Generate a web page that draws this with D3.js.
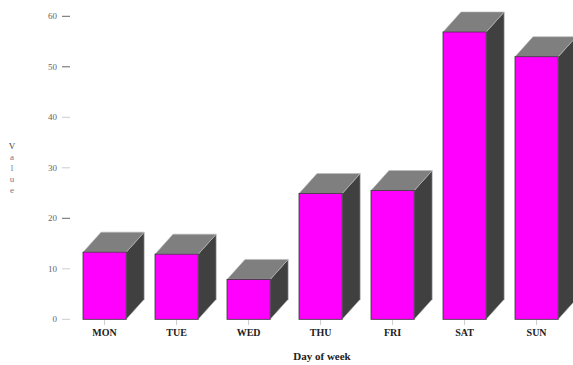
<!DOCTYPE html>
<html>
<head>
<meta charset="utf-8">
<script src="https://cdn.jsdelivr.net/npm/d3@7"></script>
<style>
  html, body { margin: 0; padding: 0; background: #fff; }
  svg { display: block; }
  text { font-family: "Liberation Serif", "DejaVu Serif", serif; }
</style>
</head>
<body>
<svg id="chart" width="573" height="365"></svg>
<script>
// Weekly values
const days = ["MON", "TUE", "WED", "THU", "FRI", "SAT", "SUN"];
const values = [13.3, 12.9, 7.9, 24.9, 25.5, 56.9, 52.0];
const yTicks = [0, 10, 20, 30, 40, 50, 60];
const yLabel = "Value";
const xLabel = "Day of week";

const svg = d3.select("#chart");

// Extrusion depth for the 3D look
const depthX = 18, depthY = 20;

const x = d3.scaleBand()
  .domain(days)
  .range([68.6, 572.6])
  .paddingInner(0.4)
  .paddingOuter(0.2);

const y = d3.scaleLinear()
  .domain([0, 60])
  .range([319.3, 16.3]);

// Y axis: labels with short tick dashes
const yAxis = svg.append("g");
yAxis.selectAll("text")
  .data(yTicks)
  .join("text")
  .attr("x", 57)
  .attr("y", d => y(d))
  .attr("dy", "0.35em")
  .attr("text-anchor", "end")
  .attr("font-size", 9)
  .attr("fill", "#666")
  .text(d => d);
yAxis.selectAll("line")
  .data(yTicks)
  .join("line")
  .attr("x1", 62).attr("x2", 70)
  .attr("y1", d => y(d)).attr("y2", d => y(d))
  .attr("stroke", d => d >= 50 || d === 20 ? "#666" : "#ccc")
  .attr("stroke-width", 1);

// Vertical stacked y-axis title
svg.append("g").selectAll("text")
  .data(yLabel.split(""))
  .join("text")
  .attr("x", 12)
  .attr("y", (d, i) => 149 + i * 11)
  .attr("text-anchor", "middle")
  .attr("font-size", 9)
  .attr("fill", (d, i) => i === 0 ? "#444" : "#778")
  .text(d => d);

// Bars drawn as extruded boxes
const bars = svg.append("g").selectAll("g")
  .data(days.map((d, i) => ({ day: d, value: values[i] })))
  .join("g");

const bw = x.bandwidth();

// side face
bars.append("path")
  .attr("d", d => {
    const x1 = x(d.day) + bw, yt = y(d.value), yb = y(0);
    return `M${x1},${yb} L${x1},${yt} L${x1 + depthX},${yt - depthY} L${x1 + depthX},${yb - depthY} Z`;
  })
  .attr("fill", "#404040")
  .attr("stroke", "#bbb")
  .attr("stroke-width", 0.6);

// top face
bars.append("path")
  .attr("d", d => {
    const x0 = x(d.day), x1 = x0 + bw, yt = y(d.value);
    return `M${x0},${yt} L${x0 + depthX},${yt - depthY} L${x1 + depthX},${yt - depthY} L${x1},${yt} Z`;
  })
  .attr("fill", "#7f7f7f")
  .attr("stroke", "#bbb")
  .attr("stroke-width", 0.6);

// front face
bars.append("rect")
  .attr("x", d => x(d.day))
  .attr("y", d => y(d.value))
  .attr("width", bw)
  .attr("height", d => y(0) - y(d.value))
  .attr("fill", "#ff00ff")
  .attr("stroke", "#333")
  .attr("stroke-width", 0.8);

// X axis ticks and labels
const xAxis = svg.append("g");
xAxis.selectAll("line")
  .data(days)
  .join("line")
  .attr("x1", d => x(d) + bw / 2).attr("x2", d => x(d) + bw / 2)
  .attr("y1", 320).attr("y2", 325)
  .attr("stroke", "#ccc");
xAxis.selectAll("text")
  .data(days)
  .join("text")
  .attr("x", d => x(d) + bw / 2)
  .attr("y", 336)
  .attr("text-anchor", "middle")
  .attr("font-size", 10)
  .attr("font-weight", "bold")
  .attr("fill", "#222")
  .text(d => d);

svg.append("text")
  .attr("x", 322)
  .attr("y", 360)
  .attr("text-anchor", "middle")
  .attr("font-size", 11)
  .attr("font-weight", "bold")
  .attr("fill", "#222")
  .text(xLabel);
</script>
</body>
</html>
